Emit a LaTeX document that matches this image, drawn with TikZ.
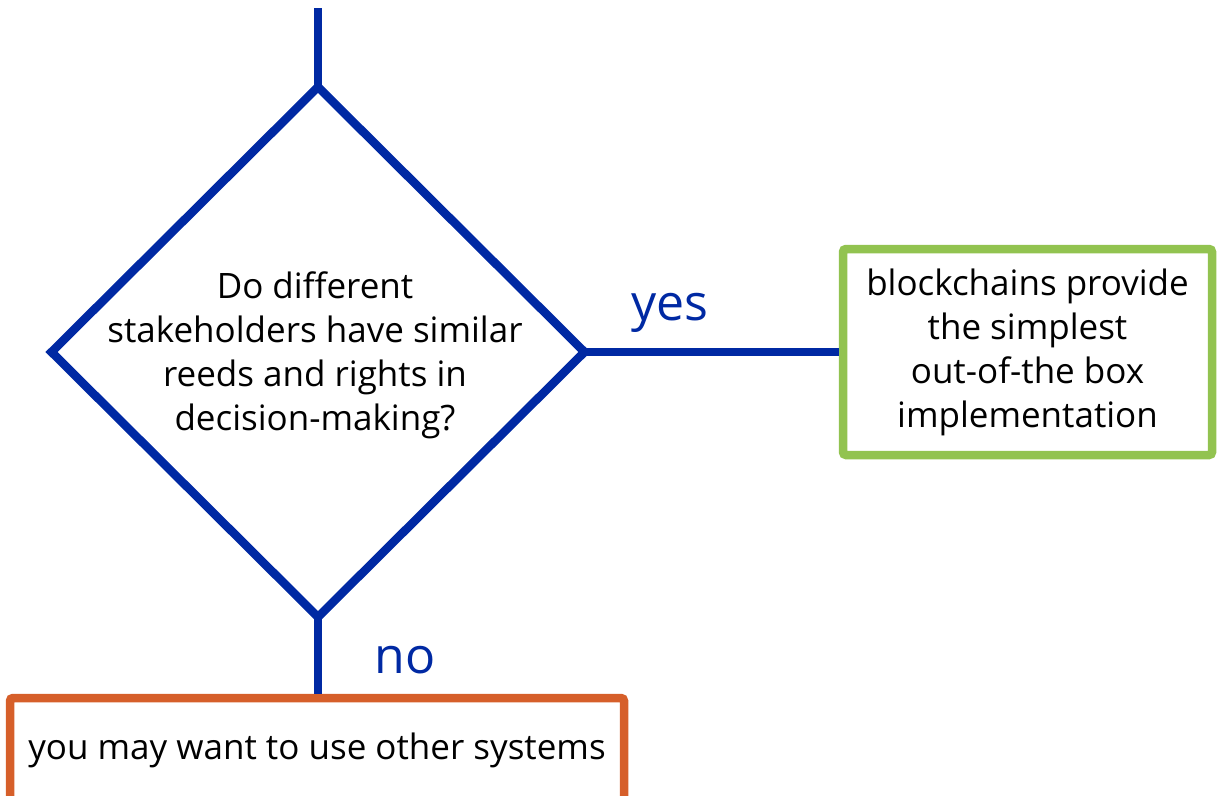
\documentclass[tikz,border=0pt]{standalone}
\usepackage{fontspec}
\setmainfont{Open Sans}
\usetikzlibrary{shapes.geometric}

\definecolor{flowblue}{HTML}{0029A3}
\definecolor{yesgreen}{HTML}{92C350}
\definecolor{noorange}{HTML}{D65F2A}

\begin{document}
\begin{tikzpicture}[x=1pt, y=-1pt,
  txt/.style={font=\fontsize{35}{44}\selectfont, align=center, text=black},
  flow/.style={draw=flowblue, line width=8.5pt},
  box/.style={txt, draw=#1, line width=8.5pt, rounded corners=3pt, inner sep=0pt},
  answer/.style={text=flowblue, font=\fontsize{50}{56}\selectfont}]
\useasboundingbox (0,0) rectangle (1217,795);

% decision
\node[flow, diamond, minimum width=533pt, minimum height=530pt, inner sep=0pt, outer sep=0pt] (q) at (318,352) {};
\node[txt] (qtext) at (315,355)
  {Do different\\stakeholders have similar\\reeds and rights in\\decision-making?};

\node[box=yesgreen, minimum width=369pt, minimum height=206pt] (yes) at (1027.5,352)
  {blockchains provide\\the simplest\\out-of-the box\\implementation};

\node[box=noorange, minimum width=614pt, minimum height=104pt] (no) at (317,750)
  {you may want to use other systems};

\coordinate (start) at (318,8);

\draw[flow] (start) -- (q.north);
\draw[flow] (q.east) -- (yes.west);
\draw[flow] (q.south) -- (no.north -| q.south);

\node[answer] (yeslbl) at (670,313) {yes};
\node[answer] (nolbl) at (405,660) {no};

\end{tikzpicture}
\end{document}
